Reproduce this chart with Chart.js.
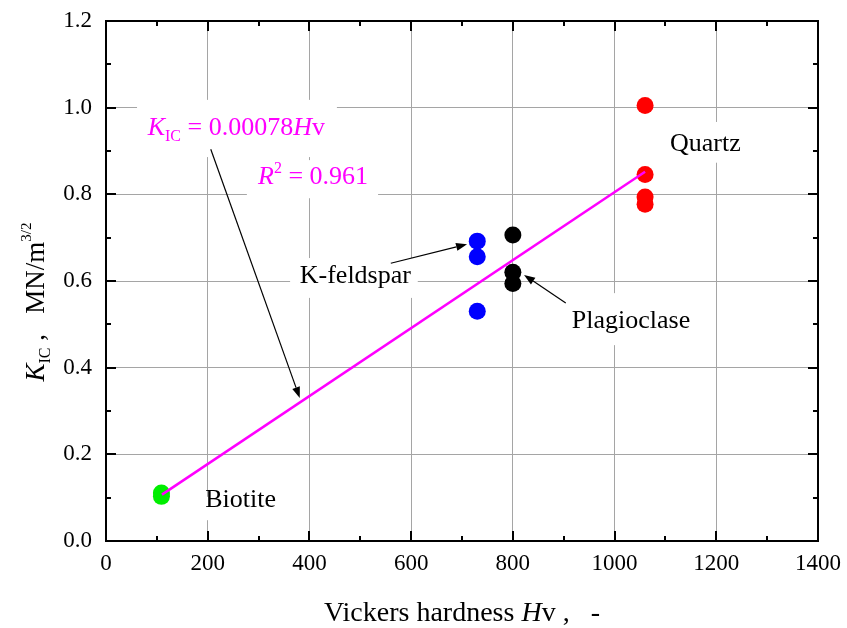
<!DOCTYPE html>
<html>
<head>
<meta charset="utf-8">
<script src="https://cdn.jsdelivr.net/npm/chart.js@4.4.1/dist/chart.umd.min.js"></script>
<style>
  html, body { margin: 0; padding: 0; background: #fff; }
  #wrap { width: 847px; height: 628px; }
</style>
</head>
<body>
<div id="wrap"><canvas id="chart" width="847" height="628"></canvas></div>
<script>
// mineral data: Vickers hardness vs K_IC
const quartzHv = [1060, 1060, 1060, 1060];
const quartzK = [1.005, 0.846, 0.794, 0.777];
const kfeldHv = [730, 730, 730];
const kfeldK = [0.692, 0.656, 0.530];
const plagHv = [800, 800, 800];
const plagK = [0.706, 0.620, 0.594];
const biotiteHv = [109, 109];
const biotiteK = [0.111, 0.103];
const fitHv = [110, 1060];
const fitK = [0.107, 0.852];

const xTicks = [0, 200, 400, 600, 800, 1000, 1200, 1400];
const yTicks = [0.0, 0.2, 0.4, 0.6, 0.8, 1.0, 1.2];

const SERIF = "'Liberation Serif', 'Times New Roman', serif";

function pts(xs, ys) {
  return xs.map(function (x, i) { return { x: x, y: ys[i] }; });
}

// white boxes behind the labels (data units)
const boxes = [
  [61, 454, 1.018, 0.886],
  [277, 535, 0.879, 0.791],
  [362, 613, 0.653, 0.561],
  [897, 1164, 0.572, 0.452],
  [1089, 1266, 0.967, 0.873],
  [175, 352, 0.102, 0.048],
];

// labels: x, y (left/baseline, data units), parts, colour
const labels = [
  { x: 82, y: 0.937, color: "#ff00ff", parts: [
    { t: "K", it: true }, { t: "IC", size: 16, dy: 6 }, { t: " = 0.00078" }, { t: "H", it: true }, { t: "v" }] },
  { x: 299, y: 0.824, color: "#ff00ff", parts: [
    { t: "R", it: true }, { t: "2", size: 16, dy: -11 }, { t: " = 0.961" }] },
  { x: 381, y: 0.595, color: "#000", parts: [{ t: "K-feldspar" }] },
  { x: 916, y: 0.491, color: "#000", parts: [{ t: "Plagioclase" }] },
  { x: 1109, y: 0.900, color: "#000", parts: [{ t: "Quartz" }] },
  { x: 195, y: 0.078, color: "#000", parts: [{ t: "Biotite" }] },
];

// arrows: from -> to (data units)
const arrows = [
  [206, 0.904, 381, 0.330],
  [560, 0.641, 710, 0.685],
  [904, 0.549, 822, 0.614],
];

function richWidth(ctx, parts, base) {
  var w = 0;
  parts.forEach(function (p) {
    ctx.font = (p.it ? "italic " : "") + (p.size || base) + "px " + SERIF;
    w += ctx.measureText(p.t).width;
  });
  return w;
}

function drawRich(ctx, x, y, parts, base, color) {
  var cx = x;
  ctx.fillStyle = color;
  ctx.textAlign = "left";
  ctx.textBaseline = "alphabetic";
  parts.forEach(function (p) {
    ctx.font = (p.it ? "italic " : "") + (p.size || base) + "px " + SERIF;
    ctx.fillText(p.t, cx, y + (p.dy || 0));
    cx += ctx.measureText(p.t).width;
  });
}

const decorPlugin = {
  id: "decor",
  beforeDatasetsDraw: function (chart) {
    var ctx = chart.ctx, xs = chart.scales.x, ys = chart.scales.y;
    ctx.save();
    ctx.fillStyle = "#fff";
    boxes.forEach(function (b) {
      var x1 = xs.getPixelForValue(b[0]), x2 = xs.getPixelForValue(b[1]);
      var y1 = ys.getPixelForValue(b[2]), y2 = ys.getPixelForValue(b[3]);
      ctx.fillRect(x1, y1, x2 - x1, y2 - y1);
    });
    ctx.restore();
  },
  afterDatasetsDraw: function (chart) {
    var ctx = chart.ctx, xs = chart.scales.x, ys = chart.scales.y;
    var a = chart.chartArea;
    ctx.save();

    labels.forEach(function (l) {
      drawRich(ctx, xs.getPixelForValue(l.x), ys.getPixelForValue(l.y), l.parts, 26, l.color);
    });

    ctx.strokeStyle = "#000";
    ctx.fillStyle = "#000";
    ctx.lineWidth = 1.2;
    arrows.forEach(function (r) {
      var x1 = xs.getPixelForValue(r[0]), y1 = ys.getPixelForValue(r[1]);
      var x2 = xs.getPixelForValue(r[2]), y2 = ys.getPixelForValue(r[3]);
      var ang = Math.atan2(y2 - y1, x2 - x1);
      var hl = 11, hw = 4;
      var bx = x2 - hl * Math.cos(ang), by = y2 - hl * Math.sin(ang);
      ctx.beginPath();
      ctx.moveTo(x1, y1);
      ctx.lineTo(bx, by);
      ctx.stroke();
      ctx.beginPath();
      ctx.moveTo(x2, y2);
      ctx.lineTo(bx + hw * Math.sin(ang), by - hw * Math.cos(ang));
      ctx.lineTo(bx - hw * Math.sin(ang), by + hw * Math.cos(ang));
      ctx.closePath();
      ctx.fill();
    });

    // frame and inward ticks
    ctx.lineWidth = 2;
    ctx.strokeRect(a.left, a.top, a.right - a.left, a.bottom - a.top);
    ctx.beginPath();
    for (var v = 0; v <= 1400; v += 100) {
      var px = Math.round(xs.getPixelForValue(v));
      var len = v % 200 === 0 ? 10 : 5;
      ctx.moveTo(px, a.bottom); ctx.lineTo(px, a.bottom - len);
      ctx.moveTo(px, a.top); ctx.lineTo(px, a.top + len);
    }
    for (var i = 0; i <= 12; i++) {
      var py = Math.round(ys.getPixelForValue(i / 10));
      var ylen = i % 2 === 0 ? 10 : 5;
      ctx.moveTo(a.left, py); ctx.lineTo(a.left + ylen, py);
      ctx.moveTo(a.right, py); ctx.lineTo(a.right - ylen, py);
    }
    ctx.stroke();

    // axis titles
    var xParts = [{ t: "Vickers hardness " }, { t: "H", it: true }, { t: "v ,   -" }];
    var xw = richWidth(ctx, xParts, 28);
    drawRich(ctx, (a.left + a.right) / 2 - xw / 2, 621, xParts, 28, "#000");

    var yParts = [{ t: "K", it: true }, { t: "IC", size: 16, dy: 6 }, { t: " ,   MN/m" }, { t: "3/2", size: 15, dy: -13 }];
    var yw = richWidth(ctx, yParts, 27);
    ctx.translate(44, 302);
    ctx.rotate(-Math.PI / 2);
    drawRich(ctx, -yw / 2, 0, yParts, 27, "#000");

    ctx.restore();
  },
};

function scatterSet(xs, ys, color) {
  return {
    data: pts(xs, ys),
    backgroundColor: color,
    borderColor: color,
    borderWidth: 0,
    pointRadius: 8.5,
    pointHoverRadius: 8.5,
    order: 1,
  };
}

new Chart(document.getElementById("chart"), {
  type: "scatter",
  data: {
    datasets: [
      {
        type: "line",
        data: pts(fitHv, fitK),
        borderColor: "#ff00ff",
        borderWidth: 2.5,
        pointRadius: 0,
        fill: false,
        order: 0,
      },
      scatterSet(quartzHv, quartzK, "#ff0000"),
      scatterSet(kfeldHv, kfeldK, "#0000ff"),
      scatterSet(plagHv, plagK, "#000000"),
      scatterSet(biotiteHv, biotiteK, "#00ee00"),
    ],
  },
  options: {
    responsive: false,
    animation: false,
    layout: { padding: { top: 21, right: 29, left: 0, bottom: 0 } },
    plugins: {
      legend: { display: false },
      tooltip: { enabled: false },
    },
    scales: {
      x: {
        type: "linear",
        min: 0,
        max: 1400,
        afterBuildTicks: function (s) { s.ticks = xTicks.map(function (v) { return { value: v }; }); },
        afterFit: function (s) {
          s.height = 87;
          s.paddingLeft = 0; s.paddingRight = 0;
        },
        grid: { color: "rgb(165,165,165)", lineWidth: 1, drawTicks: false },
        border: { display: false },
        ticks: {
          color: "#000",
          padding: 9,
          maxRotation: 0,
          font: { family: SERIF, size: 23 },
          callback: function (v) { return String(v); },
        },
      },
      y: {
        type: "linear",
        min: 0,
        max: 1.2,
        afterBuildTicks: function (s) { s.ticks = yTicks.map(function (v) { return { value: v }; }); },
        afterFit: function (s) {
          s.width = 106;
          s.paddingTop = 0; s.paddingBottom = 0;
        },
        grid: { color: "rgb(165,165,165)", lineWidth: 1, drawTicks: false },
        border: { display: false },
        ticks: {
          color: "#000",
          padding: 14,
          font: { family: SERIF, size: 23 },
          callback: function (v) { return Number(v).toFixed(1); },
        },
      },
    },
  },
  plugins: [decorPlugin],
});
</script>
</body>
</html>
